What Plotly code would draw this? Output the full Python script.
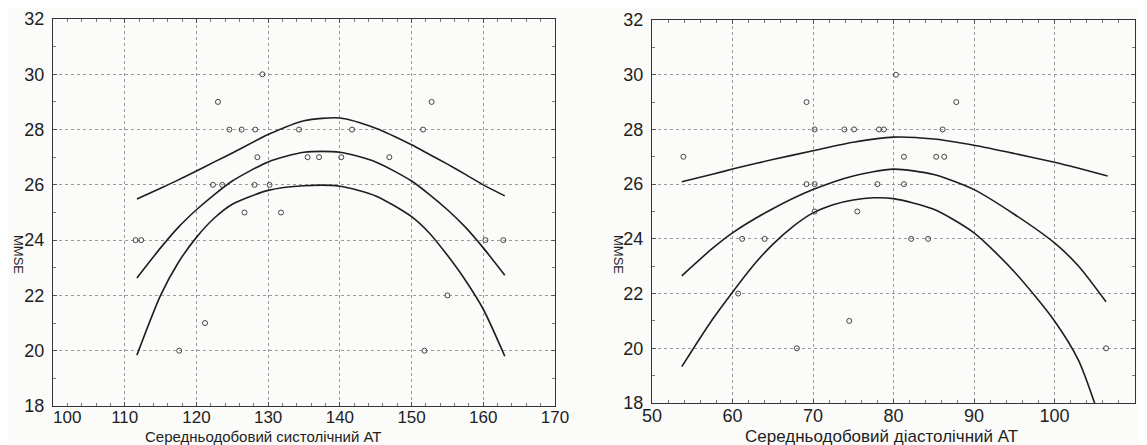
import plotly.graph_objects as go

# ---- Left panel: systolic BP vs MMSE ----
sys_x = [129.2, 123.0, 124.6, 126.3, 128.2, 134.3, 141.7, 151.6, 152.8, 128.5, 135.5, 137.1, 140.2, 146.9,
         122.3, 123.6, 128.1, 130.2, 126.7, 131.8, 111.5, 112.3, 160.3, 162.8, 155.0, 121.2, 117.6, 151.8]
sys_y = [30, 29, 28, 28, 28, 28, 28, 28, 29, 27, 27, 27, 27, 27,
         26, 26, 26, 26, 25, 25, 24, 24, 24, 24, 22, 21, 20, 20]

sys_curve_x = [111.7, 115, 117.5, 120, 122.5, 125, 130, 135, 140, 145, 150, 152.5, 155, 157.5, 160, 163]
sys_upper = [25.49, 25.88, 26.18, 26.5, 26.83, 27.15, 27.82, 28.32, 28.42, 28.05, 27.45, 27.1, 26.75, 26.38, 26.0, 25.6]
sys_fit = [22.63, 23.72, 24.47, 25.1, 25.65, 26.14, 26.83, 27.18, 27.18, 26.83, 26.14, 25.65, 25.1, 24.47, 23.72, 22.73]
sys_lower = [19.84, 22.0, 23.2, 24.1, 24.8, 25.3, 25.8, 25.97, 25.95, 25.6, 24.85, 24.25, 23.45, 22.55, 21.5, 19.8]
sys_ticks = [110, 120, 130, 140, 150, 160, 170]
sys_first_tick = 100

# ---- Right panel: diastolic BP vs MMSE ----
dia_x = [53.9, 69.2, 70.2, 73.9, 75.1, 78.2, 78.8, 86.1, 80.3, 87.8, 81.3, 85.3, 86.3, 69.2,
         70.2, 78.0, 81.3, 70.2, 75.5, 61.2, 64.0, 82.2, 84.3, 60.7, 74.5, 68.0, 106.4]
dia_y = [27, 29, 28, 28, 28, 28, 28, 28, 30, 29, 27, 27, 27, 26,
         26, 26, 26, 25, 25, 24, 24, 24, 24, 22, 21, 20, 20]

dia_upper_x = [53.7, 57.5, 60, 65, 70, 75, 80, 85, 90, 95, 100, 103, 106.6]
dia_upper = [26.09, 26.36, 26.55, 26.9, 27.22, 27.53, 27.72, 27.65, 27.42, 27.12, 26.8, 26.58, 26.3]
dia_fit_x = [53.7, 57.5, 60, 65, 70, 75, 80, 85, 90, 95, 100, 103, 106.4]
dia_fit = [22.65, 23.65, 24.22, 25.1, 25.8, 26.3, 26.55, 26.35, 25.8, 24.9, 23.85, 23.0, 21.7]
dia_lower_x = [53.7, 55, 57.5, 60, 62.5, 65, 67.5, 70, 72.5, 75, 77.5, 80, 85, 90, 95, 100, 103, 105.5]
dia_lower = [19.33, 19.93, 21.05, 22.05, 23.0, 23.8, 24.45, 24.95, 25.25, 25.42, 25.5, 25.47, 25.08, 24.22,
             22.8, 21.0, 19.55, 17.55]

x_title_left = "Середньодобовий систолічний АТ"
x_title_right = "Середньодобовий діастолічний АТ"
y_title = "MMSE"

FONT = "Liberation Sans, Arial, sans-serif"
INK = "#1e1e1e"
OFF = 8                      # default page body margin
W, H = 1147 - OFF, 445 - OFF


def fx(p):
    return (p - OFF) / W


def fy(p):
    return 1 - (p - OFF) / H


fig = go.Figure()


def add_panel(xs, ys, curves, xa, ya):
    for cx, cy in curves:
        fig.add_trace(go.Scatter(x=cx, y=cy, mode="lines",
                                 line=dict(color=INK, width=1.6, shape="spline", smoothing=0.7),
                                 xaxis=xa, yaxis=ya, showlegend=False, hoverinfo="skip"))
    fig.add_trace(go.Scatter(x=xs, y=ys, mode="markers",
                             marker=dict(symbol="circle-open", size=5, color="#444", line=dict(width=1)),
                             xaxis=xa, yaxis=ya, showlegend=False))


add_panel(sys_x, sys_y, [(sys_curve_x, sys_upper), (sys_curve_x, sys_fit), (sys_curve_x, sys_lower)], "x", "y")
add_panel(dia_x, dia_y, [(dia_upper_x, dia_upper), (dia_fit_x, dia_fit), (dia_lower_x, dia_lower)], "x2", "y2")


def xaxis_cfg(domain, rng, anchor, size):
    return dict(domain=domain, range=rng, anchor=anchor, dtick=10, tick0=0, automargin=False,
                showline=True, linecolor="#333", linewidth=1, mirror="allticks",
                ticks="inside", ticklen=4, tickcolor="#555",
                minor=dict(ticks="inside", ticklen=3, dtick=2, tickcolor="#777", showgrid=False),
                showgrid=True, gridcolor="#9a9a9a", griddash="dot", gridwidth=1,
                zeroline=False, ticklabelstandoff=-4,
                tickfont=dict(family=FONT, size=size, color=INK))


def yaxis_cfg(domain, anchor, size):
    return dict(domain=domain, range=[18, 32], anchor=anchor, dtick=2, tick0=0, automargin=False,
                showline=True, linecolor="#333", linewidth=1, mirror="allticks",
                ticks="inside", ticklen=4, tickcolor="#555",
                minor=dict(ticks="inside", ticklen=3, dtick=1, tickcolor="#777", showgrid=False),
                showgrid=True, gridcolor="#9a9a9a", griddash="dot", gridwidth=1,
                zeroline=False, ticklabelstandoff=4, tickfont=dict(family=FONT, size=size, color=INK))


xa_left = xaxis_cfg([fx(53), fx(555)], [100, 170], "y", 17)
xa_left.update(tickmode="array", tickvals=sys_ticks)

fig.update_layout(
    width=W, height=H,
    margin=dict(l=0, r=0, t=0, b=0, autoexpand=False),
    paper_bgcolor="#fbfbf9", plot_bgcolor="#fbfbf9",
    xaxis=xa_left,
    yaxis=yaxis_cfg([fy(406), fy(19)], "x", 18),
    xaxis2=xaxis_cfg([fx(652), fx(1135)], [50, 110], "y2", 18),
    yaxis2=yaxis_cfg([fy(403), fy(20)], "x2", 18),
    annotations=[
        # first x tick label of the left panel, nudged right past the "18" label as in the original
        dict(text=str(sys_first_tick), x=sys_first_tick, xref="x", y=fy(417), yref="paper", xshift=14,
             showarrow=False, font=dict(family=FONT, size=17, color=INK), xanchor="center", yanchor="middle"),
        dict(text=x_title_left, x=fx(263), y=fy(436), xref="paper", yref="paper", showarrow=False,
             font=dict(family=FONT, size=15, color=INK), xanchor="center", yanchor="middle"),
        dict(text=x_title_right, x=fx(881), y=fy(436), xref="paper", yref="paper", showarrow=False,
             font=dict(family=FONT, size=17, color=INK), xanchor="center", yanchor="middle"),
        dict(text=y_title, x=fx(18), y=fy(254), xref="paper", yref="paper", showarrow=False, textangle=90,
             font=dict(family=FONT, size=13, color=INK), xanchor="center", yanchor="middle"),
        dict(text=y_title, x=fx(618), y=fy(254), xref="paper", yref="paper", showarrow=False, textangle=90,
             font=dict(family=FONT, size=13, color=INK), xanchor="center", yanchor="middle"),
    ],
)

fig.write_html("out.html")
